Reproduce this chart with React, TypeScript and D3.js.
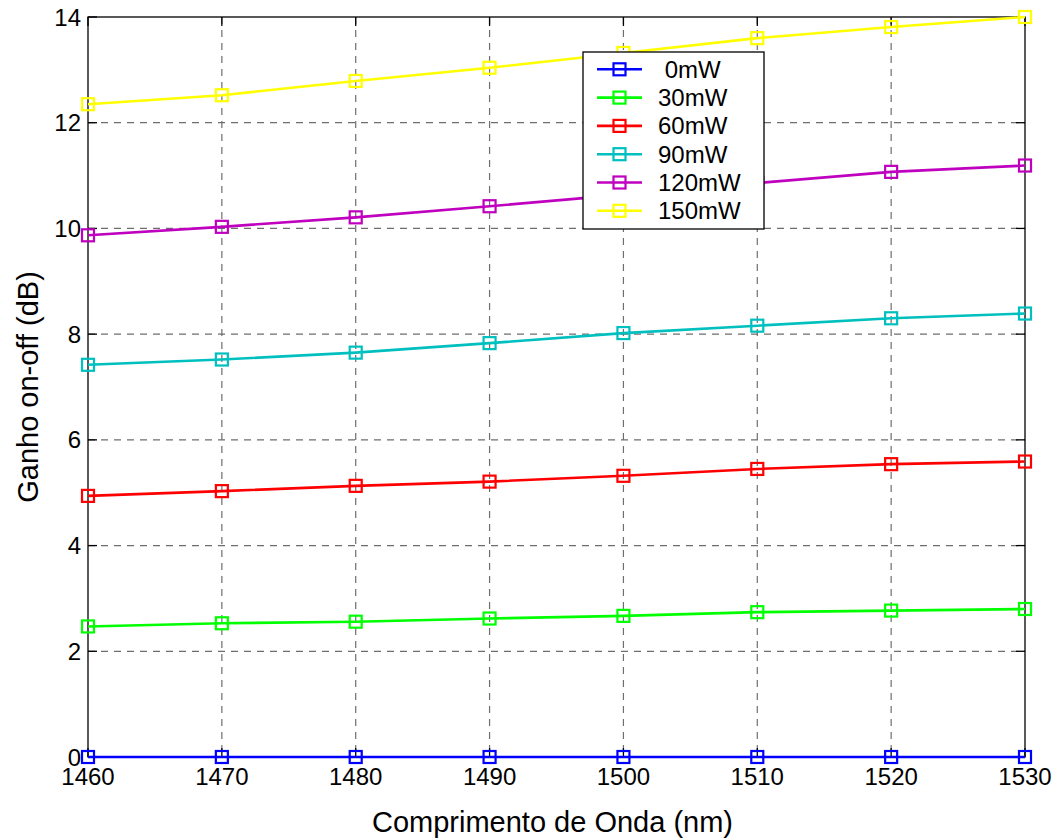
import React from "react";
import * as d3 from "d3";

// Wavelengths (nm) on the x axis
const wavelengths = [1460, 1470, 1480, 1490, 1500, 1510, 1520, 1530];

// On-off gain (dB) for each pump power
const gain0mW = [0, 0, 0, 0, 0, 0, 0, 0];
const gain30mW = [2.47, 2.53, 2.56, 2.62, 2.67, 2.74, 2.77, 2.8];
const gain60mW = [4.94, 5.03, 5.13, 5.21, 5.32, 5.45, 5.54, 5.59];
const gain90mW = [7.42, 7.52, 7.65, 7.83, 8.02, 8.16, 8.3, 8.39];
const gain120mW = [9.87, 10.03, 10.21, 10.42, 10.64, 10.86, 11.07, 11.19];
const gain150mW = [12.35, 12.52, 12.79, 13.04, 13.32, 13.6, 13.81, 14.0];

const seriesLabels = [" 0mW", "30mW", "60mW", "90mW", "120mW", "150mW"];
const seriesValues = [gain0mW, gain30mW, gain60mW, gain90mW, gain120mW, gain150mW];
const seriesColors = ["#0000ff", "#00ff00", "#ff0000", "#00bfbf", "#bf00bf", "#ffff00"];

const xTicks = [1460, 1470, 1480, 1490, 1500, 1510, 1520, 1530];
const yTicks = [0, 2, 4, 6, 8, 10, 12, 14];

const W = 1058;
const H = 839;
const plot = { left: 88, right: 1025, top: 17, bottom: 757 };
const FONT = "Liberation Sans, Arial, Helvetica, sans-serif";

export default function App() {
  const x = d3.scaleLinear().domain([1460, 1530]).range([plot.left, plot.right]);
  const y = d3.scaleLinear().domain([0, 14]).range([plot.bottom, plot.top]);
  const line = d3
    .line<[number, number]>()
    .x((d) => x(d[0]))
    .y((d) => y(d[1]));

  const markerSize = 12;
  const tickLen = 9;

  const legend = { x: 583, y: 52, w: 181, h: 177, rowTop: 69.3, rowStep: 28.3 };

  return (
    <svg
      width={W}
      height={H}
      style={{ position: "absolute", left: 0, top: 0, background: "#fff" }}
      fontFamily={FONT}
    >
      <rect x={0} y={0} width={W} height={H} fill="#fff" />

      {/* grid */}
      <g stroke="#6e6e6e" strokeWidth={1.2} strokeDasharray="7,6">
        {xTicks.slice(1, -1).map((t) => (
          <line key={"gx" + t} x1={x(t)} x2={x(t)} y1={plot.top} y2={plot.bottom} />
        ))}
        {yTicks.slice(1, -1).map((t) => (
          <line key={"gy" + t} x1={plot.left} x2={plot.right} y1={y(t)} y2={y(t)} />
        ))}
      </g>

      {/* axis box and ticks */}
      <g stroke="#000" strokeWidth={1.3} fill="none">
        <rect x={plot.left} y={plot.top} width={plot.right - plot.left} height={plot.bottom - plot.top} />
        {xTicks.map((t) => (
          <g key={"tx" + t}>
            <line x1={x(t)} x2={x(t)} y1={plot.bottom} y2={plot.bottom - tickLen} />
            <line x1={x(t)} x2={x(t)} y1={plot.top} y2={plot.top + tickLen} />
          </g>
        ))}
        {yTicks.map((t) => (
          <g key={"ty" + t}>
            <line x1={plot.left} x2={plot.left + tickLen} y1={y(t)} y2={y(t)} />
            <line x1={plot.right} x2={plot.right - tickLen} y1={y(t)} y2={y(t)} />
          </g>
        ))}
      </g>

      {/* tick labels */}
      <g fontSize={24} fill="#000">
        {xTicks.map((t) => (
          <text key={"lx" + t} x={x(t)} y={plot.bottom + 28} textAnchor="middle">
            {t}
          </text>
        ))}
        {yTicks.map((t) => (
          <text key={"ly" + t} x={plot.left - 7} y={y(t) + 8.5} textAnchor="end">
            {t}
          </text>
        ))}
      </g>

      {/* axis titles */}
      <text x={(plot.left + plot.right) / 2 - 4} y={832} fontSize={29} textAnchor="middle" fill="#000">
        Comprimento de Onda (nm)
      </text>
      <text
        transform={`translate(38, ${(plot.top + plot.bottom) / 2}) rotate(-90)`}
        fontSize={29}
        textAnchor="middle"
        fill="#000"
      >
        Ganho on-off (dB)
      </text>

      {/* series */}
      {seriesValues.map((vals, i) => {
        const pts = wavelengths.map((w, j) => [w, vals[j]] as [number, number]);
        return (
          <g key={"s" + i}>
            <path d={line(pts) || ""} fill="none" stroke={seriesColors[i]} strokeWidth={2.6} />
            {pts.map((p, j) => (
              <rect
                key={j}
                x={x(p[0]) - markerSize / 2}
                y={y(p[1]) - markerSize / 2}
                width={markerSize}
                height={markerSize}
                fill="none"
                stroke={seriesColors[i]}
                strokeWidth={2.2}
              />
            ))}
          </g>
        );
      })}

      {/* legend */}
      <g>
        <rect x={legend.x} y={legend.y} width={legend.w} height={legend.h} fill="#fff" stroke="#000" strokeWidth={1.3} />
        {seriesLabels.map((lab, i) => {
          const cy = legend.rowTop + i * legend.rowStep;
          return (
            <g key={"lg" + i}>
              <line x1={597} x2={642} y1={cy} y2={cy} stroke={seriesColors[i]} strokeWidth={2.6} />
              <rect
                x={619.5 - markerSize / 2}
                y={cy - markerSize / 2}
                width={markerSize}
                height={markerSize}
                fill="none"
                stroke={seriesColors[i]}
                strokeWidth={2.2}
              />
              <text x={658} y={cy + 8.5} fontSize={24} fill="#000" style={{ whiteSpace: "pre" }}>
                {lab}
              </text>
            </g>
          );
        })}
      </g>
    </svg>
  );
}
